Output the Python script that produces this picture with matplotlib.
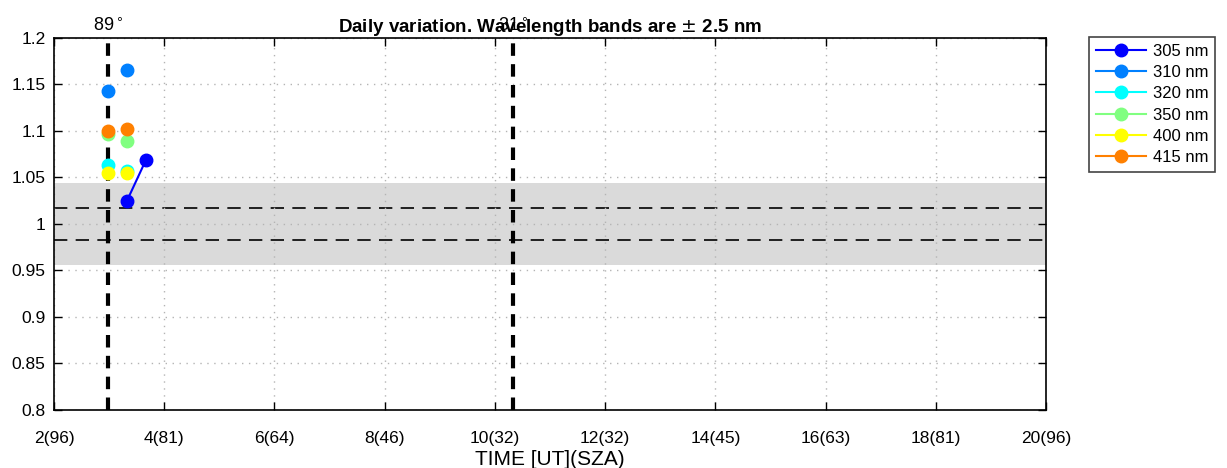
import matplotlib
matplotlib.use('Agg')
from matplotlib import pyplot as plt
import numpy as np

plt.rcParams['font.family'] = ['Liberation Sans', 'DejaVu Sans']

wavelengths = ['305 nm', '310 nm', '320 nm', '350 nm', '400 nm', '415 nm']
colors = [(0, 0, 1), (0, 0.5, 1), (0, 1, 1), (0.5, 1, 0.5), (1, 1, 0), (1, 0.5, 0)]
t_305 = [3.325, 3.67]
v_305 = [1.025, 1.069]
t_other = [2.98, 3.15, 3.325]
v_310 = [1.143, np.nan, 1.166]
v_320 = [1.063, np.nan, 1.057]
v_350 = [1.097, np.nan, 1.089]
v_400 = [1.055, np.nan, 1.055]
v_415 = [1.100, np.nan, 1.102]
series_t = [t_305, t_other, t_other, t_other, t_other, t_other]
series_v = [v_305, v_310, v_320, v_350, v_400, v_415]

sza_lines = [2.98, 10.33]
sza_labels = ['89$^\\circ$', '31$^\\circ$']
band_outer = 0.044
band_inner = 0.0175

xticks = [2, 4, 6, 8, 10, 12, 14, 16, 18, 20]
xticklabels = ['2(96)', '4(81)', '6(64)', '8(46)', '10(32)', '12(32)',
               '14(45)', '16(63)', '18(81)', '20(96)']
yticks = np.round(np.arange(0.8, 1.2001, 0.05), 2)
yticklabels = ['0.8', '0.85', '0.9', '0.95', '1', '1.05', '1.1', '1.15', '1.2']

fig = plt.figure(figsize=(12.27, 4.68), dpi=100)
ax = fig.add_axes([0.044, 0.124, 0.8085, 0.795])

ax.axhspan(1 - band_outer, 1 + band_outer, color='#dadada', zorder=0, lw=0)
ax.axhline(1 + band_inner, color='k', ls=(0, (8, 5)), lw=1.2, zorder=1)
ax.axhline(1 - band_inner, color='k', ls=(0, (8, 5)), lw=1.2, zorder=1)

for t, v, c, lab in zip(series_t, series_v, colors, wavelengths):
    ax.plot(t, v, '-o', color=c, markersize=9, lw=1.5, label=lab, zorder=3)

for x, lab in zip(sza_lines, sza_labels):
    ax.axvline(x, color='k', ls=(0, (3, 2)), lw=3, zorder=2)
    ax.text(x, 1.203, lab, ha='center', va='bottom', fontsize=13)

ax.set_xlim(2, 20)
ax.set_ylim(0.8, 1.2)
ax.set_xticks(xticks)
ax.set_xticklabels(xticklabels, fontsize=12.5)
ax.set_yticks(yticks)
ax.set_yticklabels(yticklabels, fontsize=12.5)
ax.tick_params(direction='in', top=True, right=True, length=6, width=1)
ax.tick_params(axis='x', pad=15)
ax.tick_params(axis='y', pad=6)
ax.grid(True, ls=(0, (1, 4)), color='#b4b4b4', lw=1)
for s in ax.spines.values():
    s.set_linewidth(1.2)

ax.set_title('Daily variation. Wavelength bands are $\\pm$ 2.5 nm',
             fontsize=13.5, fontweight='bold', pad=4)
ax.set_xlabel('TIME [UT](SZA)', fontsize=15, labelpad=3)

leg = ax.legend(loc='upper left', bbox_to_anchor=(0.8875, 0.921),
                bbox_transform=fig.transFigure, borderaxespad=0, fontsize=12,
                fancybox=False, edgecolor='#444444', framealpha=1,
                handlelength=3.0, handletextpad=0.45, borderpad=0.4,
                labelspacing=0.38)
leg.get_frame().set_linewidth(1.2)

fig.savefig('out.png', dpi=100)
